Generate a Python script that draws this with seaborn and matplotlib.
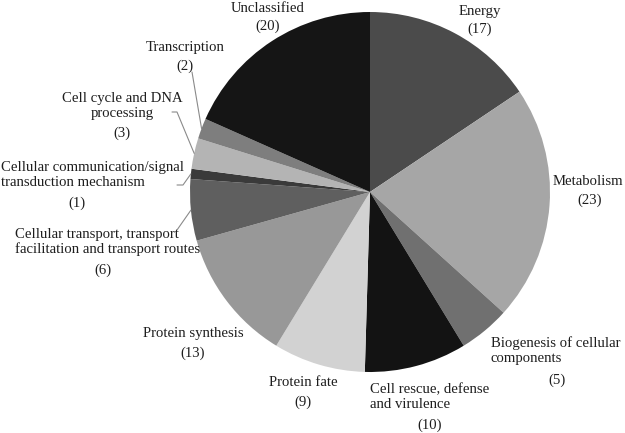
import matplotlib
matplotlib.use("Agg")
import matplotlib.pyplot as plt
import seaborn as sns
import numpy as np

sns.set_theme(style="white")
plt.rcParams["font.family"] = ["Liberation Serif", "DejaVu Serif"]

categories = ["Energy", "Metabolism", "Biogenesis of cellular\ncomponents",
              "Cell rescue, defense\nand virulence", "Protein fate", "Protein synthesis",
              "Cellular transport, transport\nfacilitation and transport routes",
              "Cellular communication/signal\ntransduction mechanism",
              "Cell cycle and DNA\nprocessing", "Transcription", "Unclassified"]
counts = [17, 23, 5, 10, 9, 13, 6, 1, 3, 2, 20]
colors = ["#4b4b4b", "#a6a6a6", "#707070", "#131313", "#d2d2d2", "#989898",
          "#5f5f5f", "#3a3a3a", "#b4b4b4", "#7e7e7e", "#151515"]

# label layout in pixel coords: name anchor (x, y, ha), count anchor (x, y)
name_pos = [(480, 12, "center"), (588, 182, "center"), (491, 351, "left"),
            (370, 397, "left"), (303, 382, "center"), (193, 334, "center"),
            (15, 242, "left"), (1, 175, "left"), (122, 106, "center"),
            (185, 47, "center"), (268, 8, "center")]
count_pos = [(480, 29), (590, 200), (557, 380), (430, 425), (303, 402), (193, 353),
             (103, 270), (77, 203), (122, 133), (185, 66), (268, 26)]
leaders = {9: (192, 72, None), 8: (172, 112, 177), 7: (177, 185, 183), 6: (177, 230, None)}

W, H = 625, 433
cx, cy, R = 370, 192, 180

def to_data(px, py):
    return (px - cx) / R, (cy - py) / R

fig = plt.figure(figsize=(W / 100, H / 100), dpi=100)
ax = fig.add_axes([0, 0, 1, 1])
wedges, _ = ax.pie(counts, colors=colors, startangle=90, counterclock=False,
                   radius=1, wedgeprops=dict(linewidth=0))
ax.set_xlim(-cx / R, (W - cx) / R)
ax.set_ylim(-(H - cy) / R, cy / R)
ax.set_aspect("equal")
ax.axis("off")

fs = 10.6
for i, name in enumerate(categories):
    nx, ny, ha = name_pos[i]
    x, y = to_data(nx, ny)
    ax.text(x, y, name, ha=ha, va="center", multialignment=ha, fontsize=fs, color="#1e1e1e")
    x, y = to_data(*count_pos[i])
    ax.text(x, y, f"({counts[i]})", ha="center", va="center", fontsize=fs, color="#1e1e1e")

for i, (sx, sy, ex) in leaders.items():
    w = wedges[i]
    mid = np.deg2rad((w.theta1 + w.theta2) / 2)
    end = (np.cos(mid), np.sin(mid))
    pts = [to_data(sx, sy)]
    if ex is not None:
        pts.append(to_data(ex, sy))
    pts.append(end)
    xs, ys = zip(*pts)
    ax.plot(xs, ys, color="#8a8a8a", lw=0.8)

fig.savefig("out.png", dpi=100)
